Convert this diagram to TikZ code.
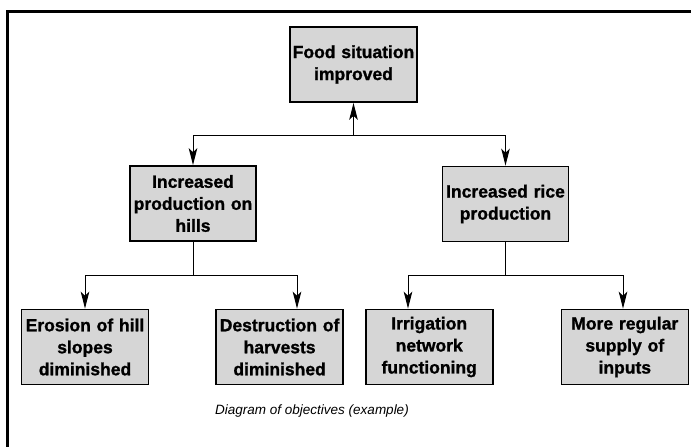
\documentclass[tikz,border=0pt]{standalone}
\usepackage{fontspec}
\setmainfont[BoldFeatures={FakeBold=1.2}]{Liberation Sans}
\usetikzlibrary{arrows.meta,positioning}

\begin{document}
\begin{tikzpicture}[x=1pt,y=-1pt,line width=1pt,
  obj/.style={rectangle,draw,line width=1.6pt,fill=black!16,minimum width=127pt,minimum height=75pt,
    text width=124pt,inner sep=1pt,align=center,font=\bfseries\fontsize{17.5}{22}\selectfont},
  up/.style={-{Stealth[length=17pt,width=8.5pt,inset=4pt]}}]
  \useasboundingbox (0,0) rectangle (691,447);
  \draw[line width=3pt] (7,447) -- (7,11) -- (691,11);

  \node[obj] (food) at (353.5,64.5) {Food situation\\improved};
  \node[obj,minimum width=122pt] (hills) at (193,203.5) {Increased\\production on\\hills};
  \node[obj,minimum width=125pt] (rice) at (505.5,204) {Increased rice\\production};
  \node[obj] (erosion) at (85,347) {Erosion of hill\\slopes\\diminished};
  \node[obj,right=66pt] (harvests) at (erosion.east) {Destruction of\\harvests\\diminished};
  \node[obj,right=21pt] (irrig) at (harvests.east) {Irrigation\\network\\functioning};
  \node[obj,right=67pt] (inputs) at (irrig.east) {More regular\\supply of\\inputs};

  \coordinate (b1) at (0,135);
  \coordinate (b2) at (0,275);
  \coordinate (h2) at (297,275);
  \coordinate (i2) at (408,275);
  \coordinate (p2) at (623,275);

  \draw (hills.north |- b1) -- (rice.north |- b1);
  \draw[up] (food.south |- b1) -- (food);
  \draw[up] (hills.north |- b1) -- (hills);
  \draw[up] (rice.north |- b1) -- (rice);

  \draw (hills) -- (hills.south |- b2);
  \draw (erosion.north |- b2) -- (h2);
  \draw[up] (erosion.north |- b2) -- (erosion);
  \draw[up] (h2) -- (h2 |- harvests.north);
  \draw (rice) -- (rice.south |- b2);
  \draw (i2) -- (p2);
  \draw[up] (i2) -- (i2 |- irrig.north);
  \draw[up] (p2) -- (p2 |- inputs.north);

  \node[font=\itshape\fontsize{13.5}{16}\selectfont] (caption) at (312,411) {Diagram of objectives (example)};
\end{tikzpicture}
\end{document}
